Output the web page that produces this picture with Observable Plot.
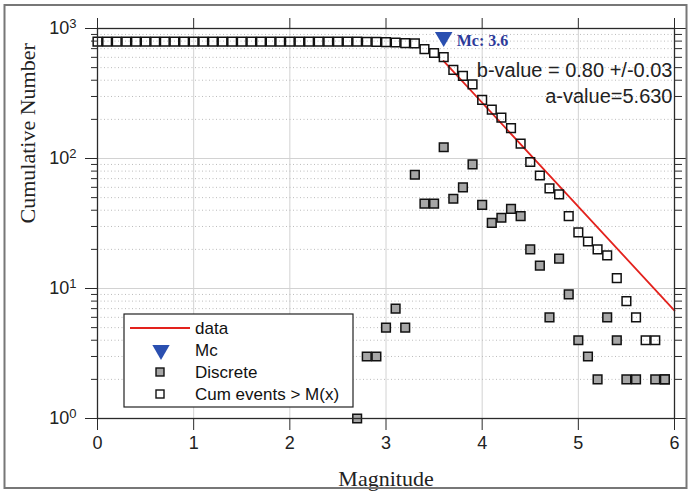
<!DOCTYPE html>
<html><head><meta charset="utf-8">
<script src="https://cdn.jsdelivr.net/npm/d3@7"></script>
<script src="https://cdn.jsdelivr.net/npm/@observablehq/plot@0.6"></script>
<style>
body{margin:0;background:#fff;}
#chart{width:691px;height:492px;}
</style></head><body><div id="chart"></div>
<script>
// ---- data ----
const cumMag = [0.0,0.1,0.2,0.3,0.4,0.5,0.6,0.7,0.8,0.9,1.0,1.1,1.2,1.3,1.4,1.5,1.6,1.7,1.8,1.9,2.0,2.1,2.2,2.3,2.4,2.5,2.6,2.7,2.8,2.9,3.0,3.1,3.2,3.3,3.4,3.5,3.6,3.7,3.8,3.9,4.0,4.1,4.2,4.3,4.4,4.5,4.6,4.7,4.8,4.9,5.0,5.1,5.2,5.3,5.4,5.5,5.6,5.7,5.8,5.9];
const cumCount = [792,792,792,792,792,792,792,792,792,792,792,792,792,792,792,792,792,792,792,792,792,792,792,792,792,792,792,792,791,788,785,780,773,768,693,648,603,481,432,372,282,238,206,171,130,94,74,59,53,36,27,23,20,18,12,8,6,4,4,2];
const discMag = [2.7,2.8,2.9,3.0,3.1,3.2,3.3,3.4,3.5,3.6,3.7,3.8,3.9,4.0,4.1,4.2,4.3,4.4,4.5,4.6,4.7,4.8,4.9,5.0,5.1,5.2,5.3,5.4,5.5,5.6,5.8,5.9];
const discCount = [1,3,3,5,7,5,75,45,45,122,49,60,90,44,32,35,41,36,20,15,6,17,9,4,3,2,6,4,2,2,2,2];
const fitMag = [3.6, 6.0];
const fitCount = [562, 6.76];
const mcMag = [3.6];
const mcCount = [860];
const xTicks = [0,1,2,3,4,5,6];
const yMajor = [1,10,100,1000];
const yMinor = [2,3,4,5,6,7,8,9,20,30,40,50,60,70,80,90,200,300,400,500,600,700,800,900];
const legendLabels = ["data","Mc","Discrete","Cum events > M(x)"];
const bText = "b-value = 0.80 +/-0.03";
const aText = "a-value=5.630";
const mcText = "Mc: 3.6";
const xTitle = "Magnitude";
const yTitle = "Cumulative Number";

const cum = cumMag.map((m,i)=>({m, n: cumCount[i]}));
const disc = discMag.map((m,i)=>({m, n: discCount[i]}));
const fit = fitMag.map((m,i)=>({m, n: fitCount[i]}));
const mc = mcMag.map((m,i)=>({m, n: mcCount[i]}));

const serif = "'Liberation Serif','Times New Roman',serif";
const sans = "'Liberation Sans',Arial,sans-serif";
const blank = () => "";

const svg = Plot.plot({
  width: 691, height: 492,
  marginLeft: 97, marginRight: 17, marginTop: 28, marginBottom: 74,
  x: {domain: [0, 6], label: null},
  y: {type: "log", domain: [1, 1000], label: null},
  style: {fontFamily: sans, fontSize: "18px", background: "white", color: "#222"},
  marks: [
    Plot.ruleX(xTicks, {stroke: "#d2d2d2", strokeWidth: 1}),
    Plot.ruleY(yMinor, {stroke: "#bcbcbc", strokeWidth: 1, strokeDasharray: "1,2.5"}),
    Plot.ruleY(yMajor, {stroke: "#d2d2d2", strokeWidth: 1}),
    Plot.line(fit, {x: "m", y: "n", stroke: "#e3221d", strokeWidth: 1.8}),
    Plot.dot(cum, {x: "m", y: "n", symbol: "square", r: 4.9, stroke: "#111", strokeWidth: 1.5, fill: "none"}),
    Plot.dot(disc, {x: "m", y: "n", symbol: "square", r: 4.9, stroke: "#111", strokeWidth: 1.5, fill: "#a6a6a6"}),
    Plot.dot(mc, {x: "m", y: "n", symbol: "triangle", rotate: 180, r: 6.5, fill: "#2a4fb0", stroke: "none"}),
    Plot.text(mc, {x: "m", y: "n", text: () => mcText, dx: 13, dy: 4, textAnchor: "start", fontFamily: serif, fontWeight: "bold", fontSize: 16, fill: "#2d3a9a"}),
    Plot.text([bText], {frameAnchor: "top-right", dx: -2, dy: 42, lineAnchor: "middle", fontSize: 20}),
    Plot.text([aText], {frameAnchor: "top-right", dx: -2, dy: 68, lineAnchor: "middle", fontSize: 20}),
    Plot.frame({stroke: "#2a2a2a", strokeWidth: 1.3}),
    Plot.axisX({anchor: "bottom", ticks: xTicks, tickSize: 12, tickPadding: 6, stroke: "#2a2a2a", tickFormat: d => String(d)}),
    Plot.axisX({anchor: "top", ticks: xTicks, tickSize: 11, stroke: "#2a2a2a", tickFormat: blank}),
    Plot.axisY({anchor: "left", ticks: yMajor, tickSize: 12, tickPadding: 9, stroke: "#2a2a2a", tickFormat: d => "10^" + Math.round(Math.log10(d))}),
    Plot.axisY({anchor: "left", ticks: yMinor, tickSize: 6, stroke: "#2a2a2a", tickFormat: blank}),
    Plot.axisY({anchor: "right", ticks: yMajor, tickSize: 12, stroke: "#2a2a2a", tickFormat: blank}),
    Plot.axisY({anchor: "right", ticks: yMinor, tickSize: 7, stroke: "#2a2a2a", tickFormat: blank}),
    Plot.text([xTitle], {frameAnchor: "bottom", dy: 60, lineAnchor: "middle", fontFamily: serif, fontSize: 22}),
    Plot.text([yTitle], {frameAnchor: "left", dx: -70, rotate: -90, lineAnchor: "middle", fontFamily: serif, fontSize: 22})
  ]
});

// superscript exponents on the y tick labels
d3.select(svg).selectAll('g[aria-label="y-axis tick label"] text').each(function () {
  const t = d3.select(this);
  const m = t.text().match(/^10\^(\d)$/);
  if (m) {
    t.text("10");
    t.append("tspan").attr("dy", "-0.5em").attr("font-size", "13px").text(m[1]);
  }
});

// legend
const s = d3.select(svg);
const lg = s.append("g").attr("font-family", sans).attr("font-size", 17).attr("text-anchor", "start");
lg.append("rect").attr("x", 124).attr("y", 314).attr("width", 229).attr("height", 93)
  .attr("fill", "white").attr("stroke", "#222").attr("stroke-width", 1.2);
const rowY = [328, 350, 372, 394];
lg.append("line").attr("x1", 130).attr("x2", 190).attr("y1", rowY[0]).attr("y2", rowY[0])
  .attr("stroke", "#e3221d").attr("stroke-width", 1.8);
lg.append("path").attr("d", d3.symbol(d3.symbolTriangle, 130)())
  .attr("transform", `translate(161,${rowY[1]}) rotate(180)`).attr("fill", "#2a4fb0");
lg.append("rect").attr("x", 156).attr("y", rowY[2] - 4).attr("width", 8).attr("height", 8)
  .attr("fill", "#a6a6a6").attr("stroke", "#111").attr("stroke-width", 1.4);
lg.append("rect").attr("x", 156).attr("y", rowY[3] - 4).attr("width", 8).attr("height", 8)
  .attr("fill", "none").attr("stroke", "#111").attr("stroke-width", 1.4);
legendLabels.forEach((lab, i) => {
  lg.append("text").attr("x", 195).attr("y", rowY[i]).attr("dy", "0.35em")
    .attr("text-anchor", "start").attr("fill", "#111").text(lab);
});

// outer figure border
s.append("rect").attr("x", 4.5).attr("y", 5).attr("width", 682).attr("height", 483)
  .attr("fill", "none").attr("stroke", "#777").attr("stroke-width", 2);

document.getElementById("chart").appendChild(svg);
</script>
</body></html>
